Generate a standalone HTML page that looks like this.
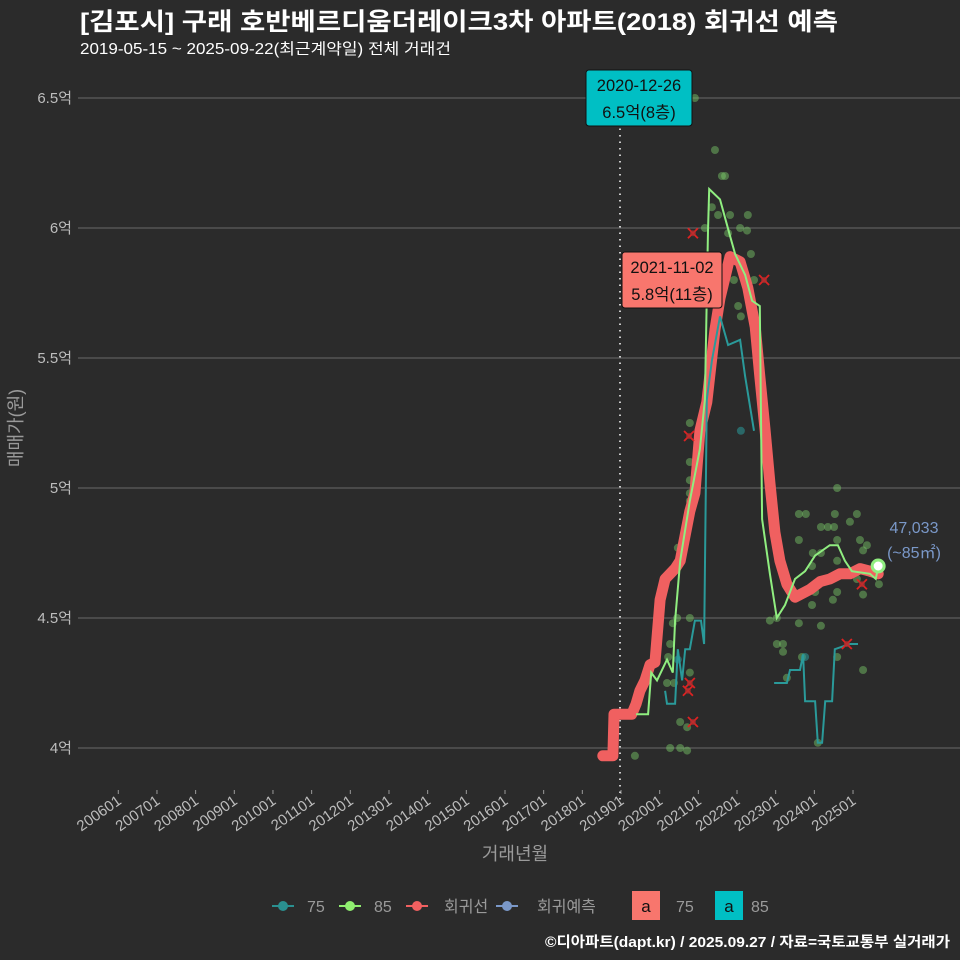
<!DOCTYPE html>
<html><head><meta charset="utf-8">
<style>
html,body{margin:0;padding:0;background:#2b2b2b;}
svg{display:block;font-family:"Liberation Sans","Noto Sans CJK KR",sans-serif;}
</style></head>
<body>
<svg id="chart" width="960" height="960" viewBox="0 0 960 960">
<rect width="960" height="960" fill="#2b2b2b"/>
<text x="80" y="30" fill="#ffffff" font-size="24.5" font-weight="bold" textLength="758" lengthAdjust="spacingAndGlyphs">[김포시] 구래 호반베르디움더레이크3차 아파트(2018) 회귀선 예측</text>
<text x="80" y="54" fill="#ffffff" font-size="15.5" textLength="371" lengthAdjust="spacingAndGlyphs">2019-05-15 ~ 2025-09-22(최근계약일) 전체 거래건</text>
<g id="grid"></g>
<g id="yticks"></g>
<g id="xticks"></g>
<line x1="620" y1="70" x2="620" y2="800" stroke="#cccccc" stroke-width="2" stroke-dasharray="1.5,5"/>
<g id="marks"></g>
<text transform="translate(22,428) rotate(-90)" text-anchor="middle" fill="#9a9a9a" font-size="18">매매가(원)</text>
<text x="515" y="860" text-anchor="middle" fill="#9a9a9a" font-size="18">거래년월</text>
<g>
 <g><line x1="272" y1="906" x2="294" y2="906" stroke="#2a9090" stroke-width="2"/><circle cx="283" cy="906" r="5" fill="#2a9090"/><text x="307" y="912" fill="#9a9a9a" font-size="16">75</text></g>
 <g><line x1="339" y1="906" x2="361" y2="906" stroke="#90ee70" stroke-width="2"/><circle cx="350" cy="906" r="5" fill="#90ee70"/><text x="374" y="912" fill="#9a9a9a" font-size="16">85</text></g>
 <g><line x1="406" y1="906" x2="428" y2="906" stroke="#f06060" stroke-width="2"/><circle cx="417" cy="906" r="5" fill="#f06060"/><text x="444" y="912" fill="#9a9a9a" font-size="16">회귀선</text></g>
 <g><line x1="496" y1="906" x2="518" y2="906" stroke="#7a98c8" stroke-width="2"/><circle cx="507" cy="906" r="5" fill="#7a98c8"/><text x="537" y="912" fill="#9a9a9a" font-size="16">회귀예측</text></g>
 <g><rect x="632" y="891" width="28" height="29" fill="#f8766d"/><text x="646" y="912" text-anchor="middle" fill="#111" font-size="17">a</text><text x="676" y="912" fill="#9a9a9a" font-size="16">75</text></g>
 <g><rect x="715" y="891" width="28" height="29" fill="#00bfc4"/><text x="729" y="912" text-anchor="middle" fill="#111" font-size="17">a</text><text x="751" y="912" fill="#9a9a9a" font-size="16">85</text></g>
</g>
<text x="545" y="947" fill="#ffffff" font-size="14.5" font-weight="bold" textLength="405" lengthAdjust="spacingAndGlyphs">©디아파트(dapt.kr) / 2025.09.27 / 자료=국토교통부 실거래가</text>
</svg>
<script>
const yTicks = [4, 4.5, 5, 5.5, 6, 6.5];
const yTickLabels = ["4억","4.5억","5억","5.5억","6억","6.5억"];
const xTickYears = [2006,2007,2008,2009,2010,2011,2012,2013,2014,2015,2016,2017,2018,2019,2020,2021,2022,2023,2024,2025];
const xTickLabels = ["200601","200701","200801","200901","201001","201101","201201","201301","201401","201501","201601","201701","201801","201901","202001","202101","202201","202301","202401","202501"];

const regT = [2018.53,2018.79,2018.82,2019.28,2019.39,2019.49,2019.62,2019.75,2019.88,2020.01,2020.14,2020.27,2020.40,2020.53,2020.78,2020.91,2021.04,2021.22,2021.43,2021.56,2021.82,2022.08,2022.28,2022.47,2022.59,2022.72,2022.85,2022.98,2023.11,2023.29,2023.50,2023.89,2024.15,2024.40,2024.66,2024.92,2025.18,2025.44,2025.65];
const regV = [3.97,3.97,4.13,4.13,4.17,4.22,4.26,4.32,4.33,4.57,4.65,4.67,4.69,4.72,4.91,4.98,5.22,5.33,5.61,5.73,5.89,5.87,5.77,5.62,5.43,5.23,5.02,4.83,4.72,4.63,4.58,4.61,4.64,4.65,4.67,4.67,4.69,4.68,4.67];

const s85T = [2019.39,2019.70,2019.78,2019.93,2020.19,2020.34,2020.40,2020.53,2020.78,2021.04,2021.17,2021.25,2021.28,2021.56,2021.82,2021.95,2022.21,2022.39,2022.59,2022.65,2022.85,2023.03,2023.24,2023.50,2023.76,2024.02,2024.40,2024.61,2024.79,2024.97,2025.44,2025.59,2025.65];
const s85V = [4.13,4.13,4.29,4.26,4.34,4.29,4.49,4.72,4.95,5.15,5.34,5.99,6.15,6.11,5.97,5.90,5.82,5.72,5.70,4.88,4.67,4.50,4.55,4.65,4.68,4.74,4.78,4.78,4.72,4.68,4.67,4.65,4.70];

const s75T = [2020.14,2020.19,2020.40,2020.47,2020.58,2020.66,2020.78,2020.91,2021.07,2021.15,2021.22,2021.35,2021.56,2021.77,2022.08,2022.21,2022.44,null,2022.96,2023.29,2023.37,2023.63,2023.71,2023.76,2024.02,2024.09,2024.20,2024.28,2024.46,2024.53,2024.92,2025.13];
const s75V = [4.22,4.17,4.17,4.38,4.26,4.38,4.38,4.49,4.49,4.40,5.34,5.49,5.66,5.55,5.57,5.43,5.22,null,4.25,4.25,4.30,4.30,4.36,4.18,4.18,4.02,4.02,4.18,4.18,4.38,4.40,4.40];

const dotT = [2019.36,2020.27,2020.53,2020.71,2020.53,2020.71,2020.19,2020.37,2020.78,2020.22,2020.27,2020.34,2020.45,2020.78,2020.47,2020.78,2020.78,2020.78,2020.78,2020.78,2020.78,2020.91,2021.43,2021.61,2021.69,2021.35,2021.51,2021.82,2021.17,2022.08,2022.28,2021.77,2022.26,2022.36,2021.92,2022.44,2022.03,2022.10,2022.85,2023.03,2023.03,2023.19,2023.19,2023.29,2023.60,2023.78,2024.53,2025.10,2024.92,2024.17,2024.35,2024.51,2024.59,2023.60,2024.59,2025.18,2025.36,2025.26,2023.96,2024.17,2024.59,2023.94,2025.10,2024.02,2024.59,2025.26,2025.67,2024.48,2023.94,2023.60,2024.17,2023.68,2024.59,2025.26,2024.09];
const dotV = [3.97,4.00,4.00,3.99,4.10,4.08,4.25,4.25,4.29,4.35,4.40,4.48,4.50,4.50,4.77,5.25,5.10,5.03,4.98,4.95,4.90,6.50,6.30,6.20,6.20,6.08,6.05,6.05,6.00,6.00,6.05,5.98,5.99,5.90,5.80,5.80,5.70,5.66,4.49,4.50,4.40,4.40,4.37,4.27,4.90,4.90,4.90,4.90,4.87,4.85,4.85,4.85,5.00,4.80,4.80,4.80,4.78,4.76,4.75,4.75,4.72,4.70,4.65,4.60,4.60,4.59,4.63,4.57,4.55,4.48,4.47,4.35,4.35,4.30,4.02];
const tealDotT = [2022.10,2023.76,2020.47];
const tealDotV = [5.22,4.35,4.34];
const crossT = [2020.86,2020.76,2020.73,2020.78,2020.86,2022.70,2024.84,2025.23];
const crossV = [5.98,5.20,4.22,4.25,4.10,5.80,4.40,4.63];
const lastT = 2025.65, lastV = 4.70;

const NS = "http://www.w3.org/2000/svg";
function xs(t){ return 621 + (t - 2019) * 38.67; }
function ys(v){ return 748 - (v - 4) * 260; }
function mk(tag, attrs, parent){ const e = document.createElementNS(NS, tag); for (const k in attrs) e.setAttribute(k, attrs[k]); parent.appendChild(e); return e; }
const grid = document.getElementById('grid'), yt = document.getElementById('yticks'), xt = document.getElementById('xticks'), marks = document.getElementById('marks');

yTicks.forEach((v,i)=>{
  const g = mk('line',{x1:78,x2:960,y1:ys(v),y2:ys(v),stroke:'#6a6a6a','stroke-width':1},grid);
  
  
  const t = mk('text',{x:72,y:ys(v)+5,'text-anchor':'end',fill:'#bdbdbd','font-size':15},yt);
  t.textContent = yTickLabels[i];
  
  
});
xTickYears.forEach((yr,i)=>{
  const x = xs(yr);
  const l = mk('line',{x1:x,x2:x,y1:790,y2:794,stroke:'#9a9a9a','stroke-width':1},xt);
  
  
  const t = mk('text',{x:x+4,y:803,'text-anchor':'end',fill:'#bdbdbd','font-size':15,transform:`rotate(-35 ${x+4} 803)`},xt);
  t.textContent = xTickLabels[i];
  
  
});
function pathFrom(T,V){ let d='', pen=false; for(let i=0;i<T.length;i++){ if(T[i]===null){pen=false;continue;} d += (pen?'L':'M') + xs(T[i]).toFixed(1)+','+ys(V[i]).toFixed(1); pen=true; } return d; }

dotT.forEach((t,i)=>{
  const c = mk('circle',{cx:xs(t),cy:ys(dotV[i]),r:4,fill:'#7ccf6a','fill-opacity':0.45},marks);
  
  
});
tealDotT.forEach((t,i)=>{
  const c = mk('circle',{cx:xs(t),cy:ys(tealDotV[i]),r:4,fill:'#2a9a9a','fill-opacity':0.55},marks);
  
  
});
const rp = mk('path',{d:pathFrom(regT,regV),fill:'none',stroke:'#f06060','stroke-width':11,'stroke-linejoin':'round','stroke-linecap':'round'},marks);


const p75 = mk('path',{d:pathFrom(s75T,s75V),fill:'none',stroke:'#2a9a9a','stroke-width':2},marks);


const p85 = mk('path',{d:pathFrom(s85T,s85V),fill:'none',stroke:'#90ee80','stroke-width':2},marks);


crossT.forEach((t,i)=>{
  const x=xs(t), y=ys(crossV[i]);
  const g = mk('path',{d:`M${x-5},${y-5}L${x+5},${y+5}M${x-5},${y+5}L${x+5},${y-5}`,stroke:'#dd2222','stroke-width':1.8},marks);
  
  
  const c = mk('circle',{cx:x,cy:y,r:3,fill:'#b03030','fill-opacity':0.7},marks);
  
  
});
const lp = mk('circle',{cx:xs(lastT),cy:ys(lastV),r:6,fill:'#ffffff',stroke:'#90ee80','stroke-width':3},marks);


const l1 = mk('text',{x:914,y:533,'text-anchor':'middle',fill:'#7a98c8','font-size':16},marks);
l1.textContent='47,033';


const l2 = mk('text',{x:914,y:558,'text-anchor':'middle',fill:'#7a98c8','font-size':16},marks);
l2.textContent='(~85㎡)';



function box(x,y,w,h,fill,t1,t2,name){
  const g = mk('g',{},marks);
  
  
  mk('rect',{x:x,y:y,width:w,height:h,rx:3,fill:fill,stroke:'#111','stroke-width':1},g);
  const a = mk('text',{x:x+w/2,y:y+21,'text-anchor':'middle',fill:'#111','font-size':16.5},g); a.textContent=t1;
  const b = mk('text',{x:x+w/2,y:y+48,'text-anchor':'middle',fill:'#111','font-size':16.5},g); b.textContent=t2;
}
box(586,70,106,56,'#00bfc4','2020-12-26','6.5억(8층)','max-price-annotation');
box(622,252,100,56,'#f8766d','2021-11-02','5.8억(11층)','regression-peak-annotation');
</script>
</body></html>
